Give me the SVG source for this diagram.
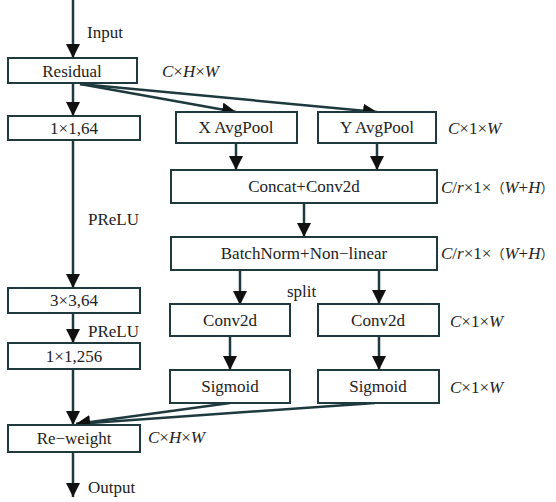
<svg xmlns="http://www.w3.org/2000/svg" width="556" height="502" viewBox="0 0 556 502">
<style>
.box{fill:#fff;stroke:#1f3a3e;stroke-width:2}
.t{font-family:'Liberation Serif','DejaVu Serif',serif;font-size:17px;fill:#222}
.m{text-anchor:middle}
.c{stroke:#1f3a3e;stroke-width:2.5;fill:none}
.i{font-style:italic}
.p{font-family:'Noto Sans CJK SC',sans-serif;font-size:13px}
</style>
<defs>
<marker id="ah" markerUnits="userSpaceOnUse" markerWidth="14" markerHeight="14" viewBox="0 0 14 14" refX="14" refY="7" orient="auto">
<path d="M0,0 L14,7 L0,14 Z" fill="#111"/>
</marker>
</defs>
<rect width="556" height="502" fill="#fff"/>
<g id="connectors">
<line class="c" x1="73" y1="0" x2="73" y2="58" marker-end="url(#ah)"/>
<line class="c" x1="73" y1="83" x2="73" y2="116" marker-end="url(#ah)"/>
<line class="c" x1="73" y1="140" x2="73" y2="288" marker-end="url(#ah)"/>
<line class="c" x1="73" y1="313" x2="73" y2="343" marker-end="url(#ah)"/>
<line class="c" x1="73" y1="369" x2="73" y2="425" marker-end="url(#ah)"/>
<line class="c" x1="73" y1="452" x2="73" y2="497" marker-end="url(#ah)"/>
<line class="c" x1="80" y1="84" x2="236" y2="112" marker-end="url(#ah)"/>
<line class="c" x1="80" y1="84" x2="377" y2="112" marker-end="url(#ah)"/>
<line class="c" x1="236" y1="143" x2="236" y2="170" marker-end="url(#ah)"/>
<line class="c" x1="377" y1="143" x2="377" y2="170" marker-end="url(#ah)"/>
<line class="c" x1="304" y1="203" x2="304" y2="237" marker-end="url(#ah)"/>
<line class="c" x1="240" y1="270" x2="240" y2="305" marker-end="url(#ah)"/>
<line class="c" x1="379" y1="270" x2="379" y2="304" marker-end="url(#ah)"/>
<line class="c" x1="230" y1="335" x2="230" y2="370" marker-end="url(#ah)"/>
<line class="c" x1="379" y1="336" x2="379" y2="370" marker-end="url(#ah)"/>
<line class="c" x1="230" y1="403" x2="76" y2="424" marker-end="url(#ah)"/>
<line class="c" x1="375" y1="403" x2="76" y2="424" marker-end="url(#ah)"/>
</g>
<g id="residual"><rect class="box" x="8" y="58" width="129" height="25"/><text class="t m" x="72" y="77">Residual</text></g>
<g id="conv1x1-64"><rect class="box" x="8" y="116" width="132" height="24"/><text class="t m" x="74" y="134">1×1,64</text></g>
<g id="xavgpool"><rect class="box" x="176" y="112" width="121" height="31"/><text class="t m" x="236" y="133">X AvgPool</text></g>
<g id="yavgpool"><rect class="box" x="318" y="112" width="118" height="31"/><text class="t m" x="377" y="133">Y AvgPool</text></g>
<g id="concat"><rect class="box" x="171" y="170" width="266" height="33"/><text class="t m" x="304" y="192">Concat+Conv2d</text></g>
<g id="batchnorm"><rect class="box" x="171" y="237" width="266" height="33"/><text class="t m" x="304" y="259">BatchNorm+Non−linear</text></g>
<g id="conv3x3"><rect class="box" x="8" y="288" width="132" height="25"/><text class="t m" x="74" y="306">3×3,64</text></g>
<g id="conv1x1-256"><rect class="box" x="8" y="343" width="132" height="26"/><text class="t m" x="74" y="362">1×1,256</text></g>
<g id="conv2d-left"><rect class="box" x="170" y="304" width="120" height="32"/><text class="t m" x="230" y="326">Conv2d</text></g>
<g id="conv2d-right"><rect class="box" x="318" y="304" width="121" height="32"/><text class="t m" x="378" y="326">Conv2d</text></g>
<g id="sigmoid-left"><rect class="box" x="170" y="370" width="120" height="33"/><text class="t m" x="230" y="392">Sigmoid</text></g>
<g id="sigmoid-right"><rect class="box" x="318" y="370" width="121" height="33"/><text class="t m" x="378" y="392">Sigmoid</text></g>
<g id="reweight"><rect class="box" x="8" y="425" width="132" height="27"/><text class="t m" x="74" y="444">Re−weight</text></g>
<g id="labels">
<text class="t" x="87" y="38">Input</text>
<text class="t" x="88" y="225">PReLU</text>
<text class="t" x="88" y="337">PReLU</text>
<text class="t" x="287" y="297">split</text>
<text class="t" x="88" y="493">Output</text>
<text class="t" x="162" y="77"><tspan class="i">C</tspan>×<tspan class="i">H</tspan>×<tspan class="i">W</tspan></text>
<text class="t" x="448" y="134"><tspan class="i">C</tspan>×1×<tspan class="i">W</tspan></text>
<text class="t" x="441" y="193"><tspan class="i">C</tspan>/<tspan class="i">r</tspan>×1×<tspan class="p">（</tspan><tspan class="i">W</tspan>+<tspan class="i">H</tspan><tspan class="p">）</tspan></text>
<text class="t" x="441" y="259"><tspan class="i">C</tspan>/<tspan class="i">r</tspan>×1×<tspan class="p">（</tspan><tspan class="i">W</tspan>+<tspan class="i">H</tspan><tspan class="p">）</tspan></text>
<text class="t" x="450" y="327"><tspan class="i">C</tspan>×1×<tspan class="i">W</tspan></text>
<text class="t" x="450" y="393"><tspan class="i">C</tspan>×1×<tspan class="i">W</tspan></text>
<text class="t" x="148" y="443"><tspan class="i">C</tspan>×<tspan class="i">H</tspan>×<tspan class="i">W</tspan></text>
</g>
</svg>
